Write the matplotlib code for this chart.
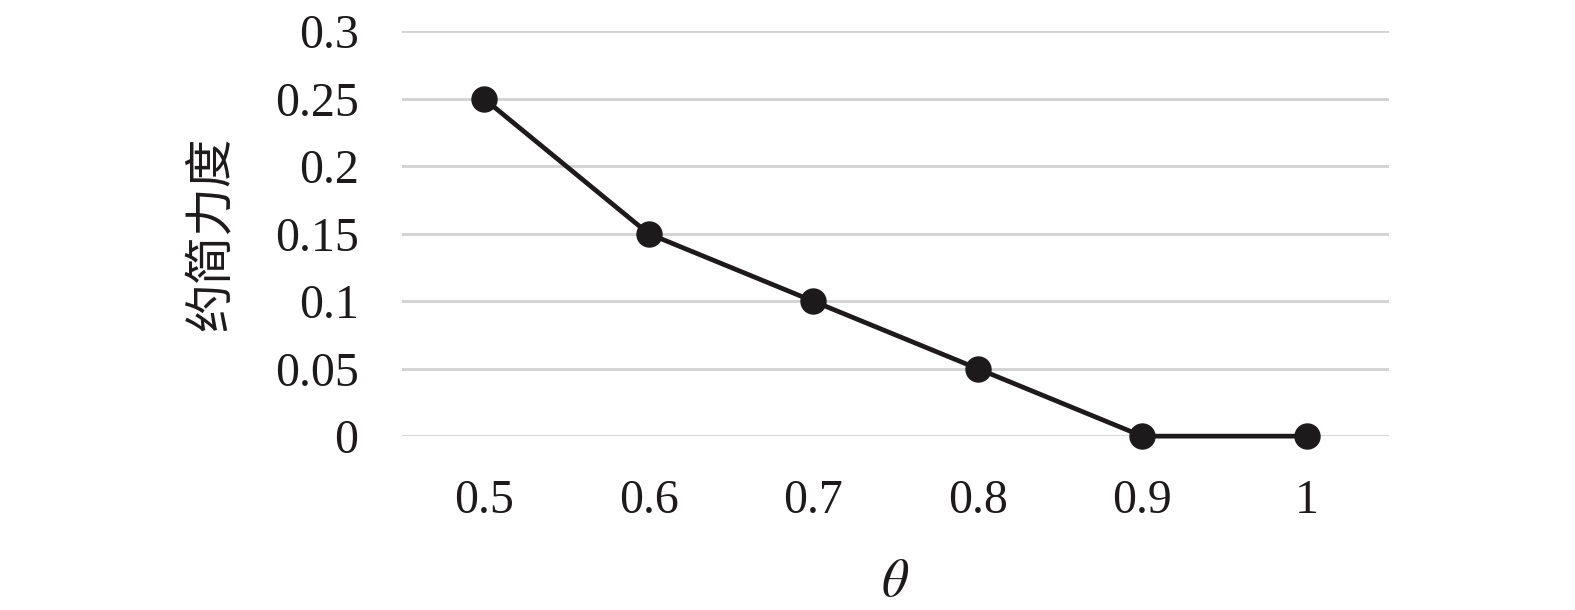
import matplotlib
matplotlib.use("Agg")
import matplotlib.pyplot as plt

# data
theta_labels = ["0.5", "0.6", "0.7", "0.8", "0.9", "1"]
reduction = [0.25, 0.15, 0.1, 0.05, 0.0, 0.0]
y_ticks = [0, 0.05, 0.1, 0.15, 0.2, 0.25, 0.3]
y_tick_labels = ["0", "0.05", "0.1", "0.15", "0.2", "0.25", "0.3"]

plt.rcParams["font.family"] = ["Liberation Serif", "DejaVu Serif"]
plt.rcParams["mathtext.fontset"] = "stix"

fig = plt.figure(figsize=(15.75, 6.1), dpi=100)
ax = fig.add_axes([0.255, 0.285, 0.627, 0.664])

x = list(range(len(theta_labels)))
ax.plot(x, reduction, color="#1c1a1b", linewidth=3.4, marker="o",
        markersize=18, zorder=3, clip_on=False)

ax.set_xlim(-0.5, len(theta_labels) - 0.5)
ax.set_ylim(0, 0.3)
ax.set_yticks(y_ticks)
ax.set_yticklabels(y_tick_labels)
ax.set_xticks(x)
ax.set_xticklabels(theta_labels)
ax.yaxis.grid(True, color="#d2d2d2", linewidth=2)
ax.set_axisbelow(True)
for s in ax.spines.values():
    s.set_visible(False)
ax.tick_params(axis="both", length=0, labelsize=34.5, colors="#1c1a1b")
ax.tick_params(axis="y", pad=31)
ax.tick_params(axis="x", pad=31)

ax.set_ylabel("约简力度", fontsize=35, family=["Noto Sans CJK SC", "DejaVu Sans"],
              color="#1c1a1b", labelpad=28)
ax.set_xlabel(r"$\theta$", fontsize=38, color="#1c1a1b", labelpad=26)

fig.savefig("out.png", dpi=100, facecolor="white")
